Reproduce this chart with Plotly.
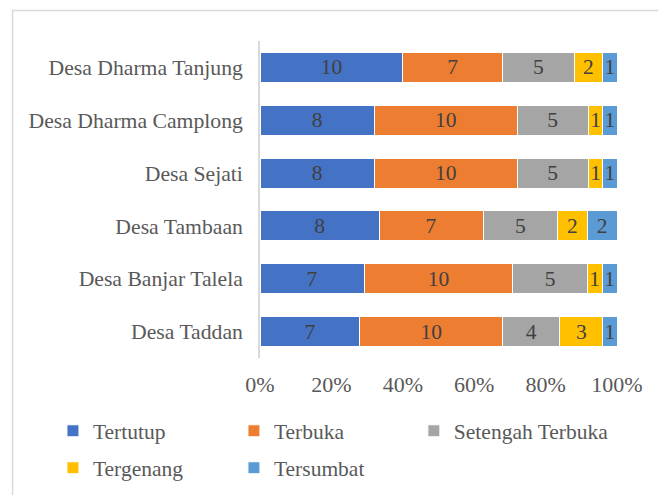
import plotly.graph_objects as go

categories = ["Desa Taddan", "Desa Banjar Talela", "Desa Tambaan", "Desa Sejati",
              "Desa Dharma Camplong", "Desa Dharma Tanjung"]
series_names = ["Tertutup", "Terbuka", "Setengah Terbuka", "Tergenang", "Tersumbat"]
tertutup = [7, 7, 8, 8, 8, 10]
terbuka = [10, 10, 7, 10, 10, 7]
setengah = [4, 5, 5, 5, 5, 5]
tergenang = [3, 1, 2, 1, 1, 2]
tersumbat = [1, 1, 2, 1, 1, 1]
tick_vals = [0, 20, 40, 60, 80, 100]
tick_text = ["0%", "20%", "40%", "60%", "80%", "100%"]

colors = ["#4472C4", "#ED7D31", "#A5A5A5", "#FFC000", "#5B9BD5"]
series = [tertutup, terbuka, setengah, tergenang, tersumbat]
legend_ids = ["legend", "legend2", "legend3", "legend", "legend2"]
FONT = "Liberation Serif"

fig = go.Figure()
for i, (name, vals, col) in enumerate(zip(series_names, series, colors)):
    fig.add_trace(go.Bar(
        y=categories, x=vals, name=name, orientation="h",
        marker=dict(color=col, line=dict(color="white", width=1)),
        text=[str(v) for v in vals], textposition="inside",
        insidetextanchor="middle", textangle=0,
        textfont=dict(family=FONT, size=21.5, color="#404040"),
        legend=legend_ids[i], legendgroup=name,
    ))

leg_common = dict(orientation="v", xref="paper", yref="paper", y=-0.165,
                  xanchor="left", yanchor="top", traceorder="grouped",
                  tracegroupgap=6, itemwidth=30, bgcolor="rgba(0,0,0,0)",
                  font=dict(family=FONT, size=21.5, color="#595959"))

fig.update_layout(
    barmode="stack", barnorm="percent", bargap=0.43,
    width=658, height=495,
    margin=dict(l=260, r=41, t=41, b=137, autoexpand=False),
    paper_bgcolor="white", plot_bgcolor="white",
    font=dict(family=FONT, size=21.5, color="#595959"),
    uniformtext=dict(minsize=21.5, mode="show"),
    xaxis=dict(range=[0, 100], tickvals=tick_vals, ticktext=tick_text,
               showgrid=False, zeroline=False, showline=False, ticks="",
               automargin=False, ticklabelstandoff=11,
               tickfont=dict(family=FONT, size=22, color="#595959")),
    yaxis=dict(showline=True, linecolor="#D9D9D9", linewidth=1.5,
               showgrid=False, ticks="", ticklabelstandoff=11, automargin=False,
               tickfont=dict(family=FONT, size=21.7, color="#595959")),
    legend=dict(x=-0.580, **leg_common),
    legend2=dict(x=-0.073, **leg_common),
    legend3=dict(x=0.431, **leg_common),
    showlegend=True,
)
fig.add_shape(type="rect", xref="paper", yref="paper",
              x0=-0.693, x1=1.3, y0=-0.6, y1=1.096,
              line=dict(color="#D9D9D9", width=1.5), fillcolor="rgba(0,0,0,0)", layer="below")
fig.write_html("out.html", config={"displayModeBar": False},
               post_script="document.body.style.margin='0';document.body.style.overflow='hidden';")
